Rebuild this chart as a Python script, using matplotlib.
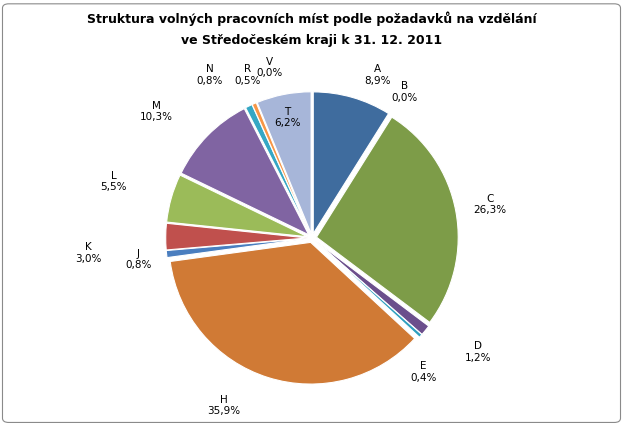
import matplotlib
matplotlib.use("Agg")
import matplotlib.pyplot as plt
from matplotlib.patches import FancyBboxPatch

labels = ["A", "B", "C", "D", "E", "H", "J", "K", "L", "M", "N", "R", "T", "V"]
values = [8.9, 0.0, 26.3, 1.2, 0.4, 35.9, 0.8, 3.0, 5.5, 10.3, 0.8, 0.5, 6.2, 0.0]
colors = ["#3F6C9E", "#4F81BD", "#7D9C48", "#6B4F8C", "#2E9FBF", "#D07A35", "#4A7EBF",
          "#C0504D", "#9BBB59", "#8064A2", "#35A7C4", "#F79646", "#A7B6D9", "#C0504D"]

fig = plt.figure(figsize=(6.23, 4.25), dpi=100)
fig.patches.append(FancyBboxPatch((0.004, 0.006), 0.992, 0.985, boxstyle="round,pad=0,rounding_size=0.01",
                                  transform=fig.transFigure, fill=False, ec="#8a8a8a", lw=0.8))
fig.text(0.5, 0.955, "Struktura volných pracovních míst podle požadavků na vzdělání",
         ha="center", va="center", fontsize=9, fontweight="bold")
fig.text(0.5, 0.905, "ve Středočeském kraji k 31. 12. 2011",
         ha="center", va="center", fontsize=9, fontweight="bold")

ax = fig.add_axes([(312 - 160) / 623, 1 - (238 + 160) / 425, 320 / 623, 320 / 425])
sizes = [v if v > 0 else 1e-6 for v in values]
wedges, _ = ax.pie(sizes, colors=colors, startangle=90, counterclock=False,
                   explode=[0.03] * len(sizes), radius=0.93,
                   wedgeprops=dict(edgecolor="white", linewidth=0.8))

# label positions (x, y in axes data coords)
pos = {"A": (0.43, 1.07), "B": (0.61, 0.96), "C": (1.17, 0.22), "D": (1.09, -0.75),
       "E": (0.73, -0.88), "H": (-0.58, -1.1), "J": (-1.14, -0.14), "K": (-1.47, -0.1),
       "L": (-1.3, 0.37), "M": (-1.02, 0.83), "N": (-0.67, 1.07), "R": (-0.42, 1.07),
       "T": (-0.16, 0.79), "V": (-0.28, 1.12)}
for lab, v in zip(labels, values):
    x, y = pos[lab]
    ax.text(x, y, f"{lab}\n{v:.1f}%".replace(".", ","), ha="center", va="center", fontsize=7.5)
ax.set_xlim(-1.05, 1.05)
ax.set_ylim(-1.05, 1.05)
ax.set_aspect("equal")
ax.axis("off")

fig.savefig("out.png", dpi=100)
